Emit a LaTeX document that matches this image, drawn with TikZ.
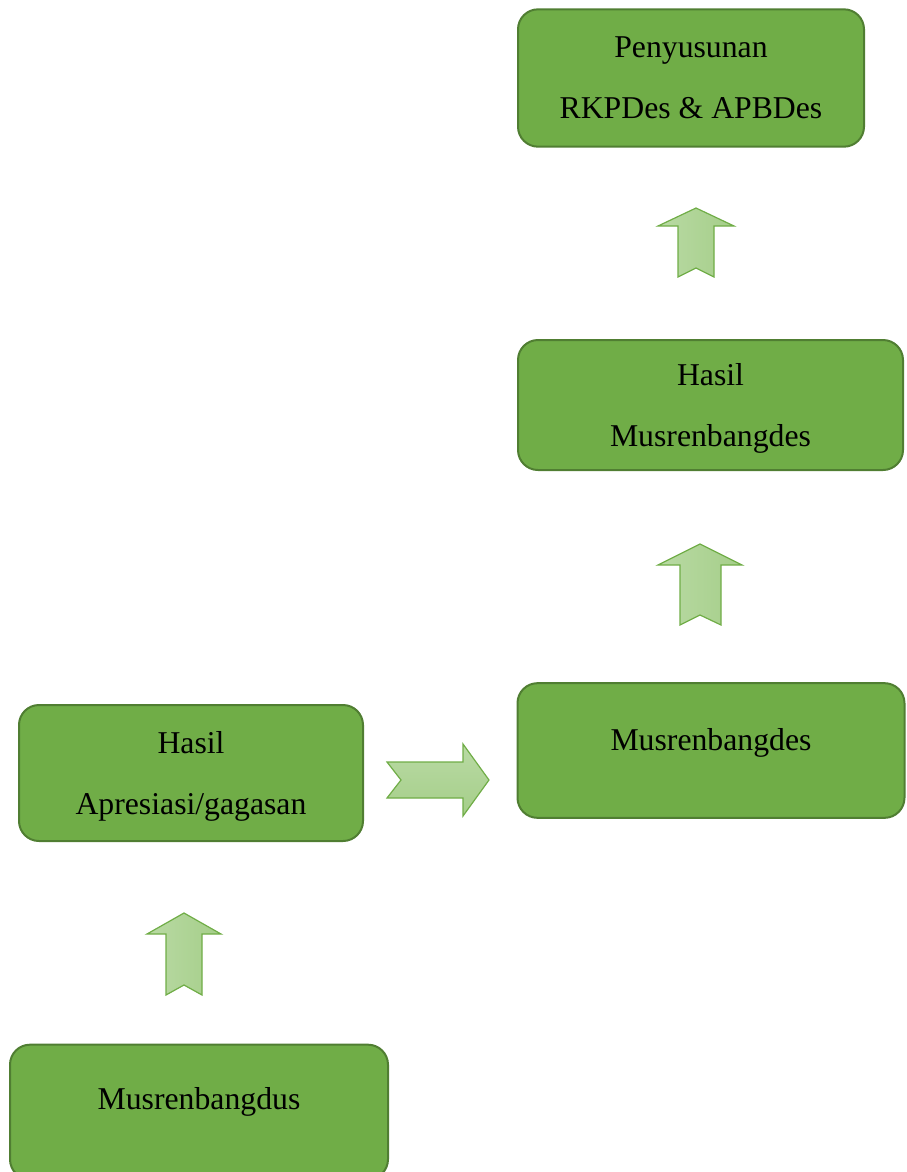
\documentclass[tikz,border=0pt]{standalone}
\usepackage{fontspec}
\setmainfont{Liberation Serif}
\usepackage{tikz}

\definecolor{boxfill}{HTML}{70AD47}
\definecolor{boxline}{HTML}{507E32}
\definecolor{arrowlight}{HTML}{B9DAA4}
\definecolor{arrowdark}{HTML}{A5CE89}

\tikzset{
  box/.style={draw=boxline, fill=boxfill, line width=1.5pt, rounded corners=15pt,
    align=center, inner sep=0pt, font=\fontsize{23.8}{45.75}\selectfont},
  blockarrow/.style={draw=boxfill, line width=0.9pt, left color=arrowlight, right color=arrowdark},
}

\begin{document}
\begin{tikzpicture}[x=0.75pt,y=0.75pt,yscale=-1,xscale=1]
    \useasboundingbox (0,0) rectangle (907,1172);

    % boxes
    \node [box, minimum width=259.5pt, minimum height=103pt] (rkpdes) at (691,78) {Penyusunan\\RKPDes \& APBDes};
    \node [box, minimum width=288.75pt, minimum height=97.5pt, text depth=0pt] (hasildes) at (710.5,405) {Hasil\\Musrenbangdes};
    \node [box, minimum width=290.25pt, minimum height=101pt, text depth=16pt] (musdes) at (711,750.5) {Musrenbangdes};
    \node [box, minimum width=258pt, minimum height=102pt, text depth=0pt] (hasildus) at (191,773) {Hasil\\Apresiasi/gagasan};
    \node [box, minimum width=283.5pt, minimum height=101pt, text depth=20pt] (musdus) at (199,1112) {Musrenbangdus};

    % block arrows
    \draw [blockarrow] (184,913) -- (221,934) -- (202,934) -- (202,995) -- (184,985) -- (166,995) -- (166,934) -- (147,934) -- cycle ;
    \draw [blockarrow, top color=arrowlight, bottom color=arrowdark] (387,762) -- (463,762) -- (463,744) -- (489,780) -- (463,816) -- (463,798) -- (387,798) -- (401,780) -- cycle ;
    \draw [blockarrow] (700,544) -- (742,565) -- (721,565) -- (721,625) -- (700,615) -- (680,625) -- (680,565) -- (658,565) -- cycle ;
    \draw [blockarrow] (696,208) -- (734,226) -- (714,226) -- (714,277) -- (696,268) -- (678,277) -- (678,226) -- (658,226) -- cycle ;

\end{tikzpicture}
\end{document}
